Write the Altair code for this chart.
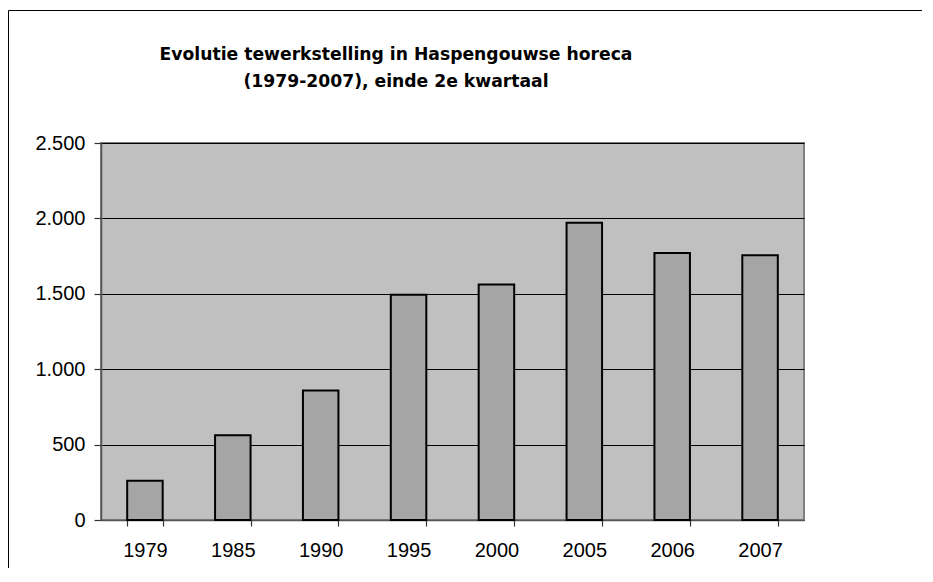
import altair as alt
import pandas as pd

years = ["1979", "1985", "1990", "1995", "2000", "2005", "2006", "2007"]
employment = [260, 562, 858, 1493, 1561, 1971, 1770, 1756]
y_ticks = [0, 500, 1000, 1500, 2000, 2500]
title_lines = ["Evolutie tewerkstelling in Haspengouwse horeca", "(1979-2007), einde 2e kwartaal"]

df = pd.DataFrame({"jaar": years, "aantal": employment})

W, H = 703, 377
PAD_L, PAD_T, PAD_R, PAD_B = 93, 135, 121, 48

bars = alt.Chart(df).mark_bar(
    color="#A5A5A5", stroke="#000000", strokeWidth=2
).encode(
    x=alt.X("jaar:N", sort=years,
            scale=alt.Scale(paddingInner=0.596, paddingOuter=0.298),
            axis=alt.Axis(title=None, labelAngle=0, tickBand="extent",
                          labelFont="Liberation Sans", labelFontSize=20,
                          labelColor="#000000", labelPadding=14,
                          tickSize=6, tickColor="#333333", tickWidth=1.2,
                          domainColor="#555555", domainWidth=1.5, grid=False)),
    y=alt.Y("aantal:Q",
            scale=alt.Scale(domain=[0, 2500], nice=False),
            axis=alt.Axis(title=None, values=y_ticks,
                          labelExpr="replace(format(datum.value, ','), ',', '.')",
                          labelFont="Liberation Sans", labelFontSize=20,
                          labelColor="#000000", labelPadding=9,
                          tickSize=7, tickColor="#333333", tickWidth=1.2,
                          domainColor="#555555", domainWidth=1.5,
                          grid=True, gridColor="#000000", gridWidth=1)),
)

one = pd.DataFrame({"f": [0]})

frame_top = alt.Chart(one).mark_rule(color="#000000", strokeWidth=1).encode(
    x=alt.value(-PAD_L + 0.5), x2=alt.value(W + PAD_R - 3), y=alt.value(-PAD_T + 2.5)
)
frame_left = alt.Chart(one).mark_rule(color="#000000", strokeWidth=1).encode(
    x=alt.value(-PAD_L + 0.5), y=alt.value(-PAD_T + 2.5), y2=alt.value(H + PAD_B)
)


def title_line(text, y):
    return alt.Chart(pd.DataFrame({"line": [text]})).mark_text(
        font="DejaVu Sans", fontSize=17.2, fontWeight="bold", color="#000000",
        align="center", baseline="middle"
    ).encode(text="line:N", x=alt.value(295), y=alt.value(y))


title1 = title_line(title_lines[0], -88)
title2 = title_line(title_lines[1], -61)

chart = alt.layer(bars, frame_top, frame_left, title1, title2).properties(
    width=W, height=H,
    autosize=alt.AutoSizeParams(type="none"),
    padding={"left": PAD_L, "top": PAD_T, "right": PAD_R, "bottom": PAD_B},
    background="#FFFFFF",
).configure_view(
    fill="#C0C0C0", stroke="#808080", strokeWidth=2
)

chart.save("out.html", embed_options={"renderer": "svg", "actions": False})
